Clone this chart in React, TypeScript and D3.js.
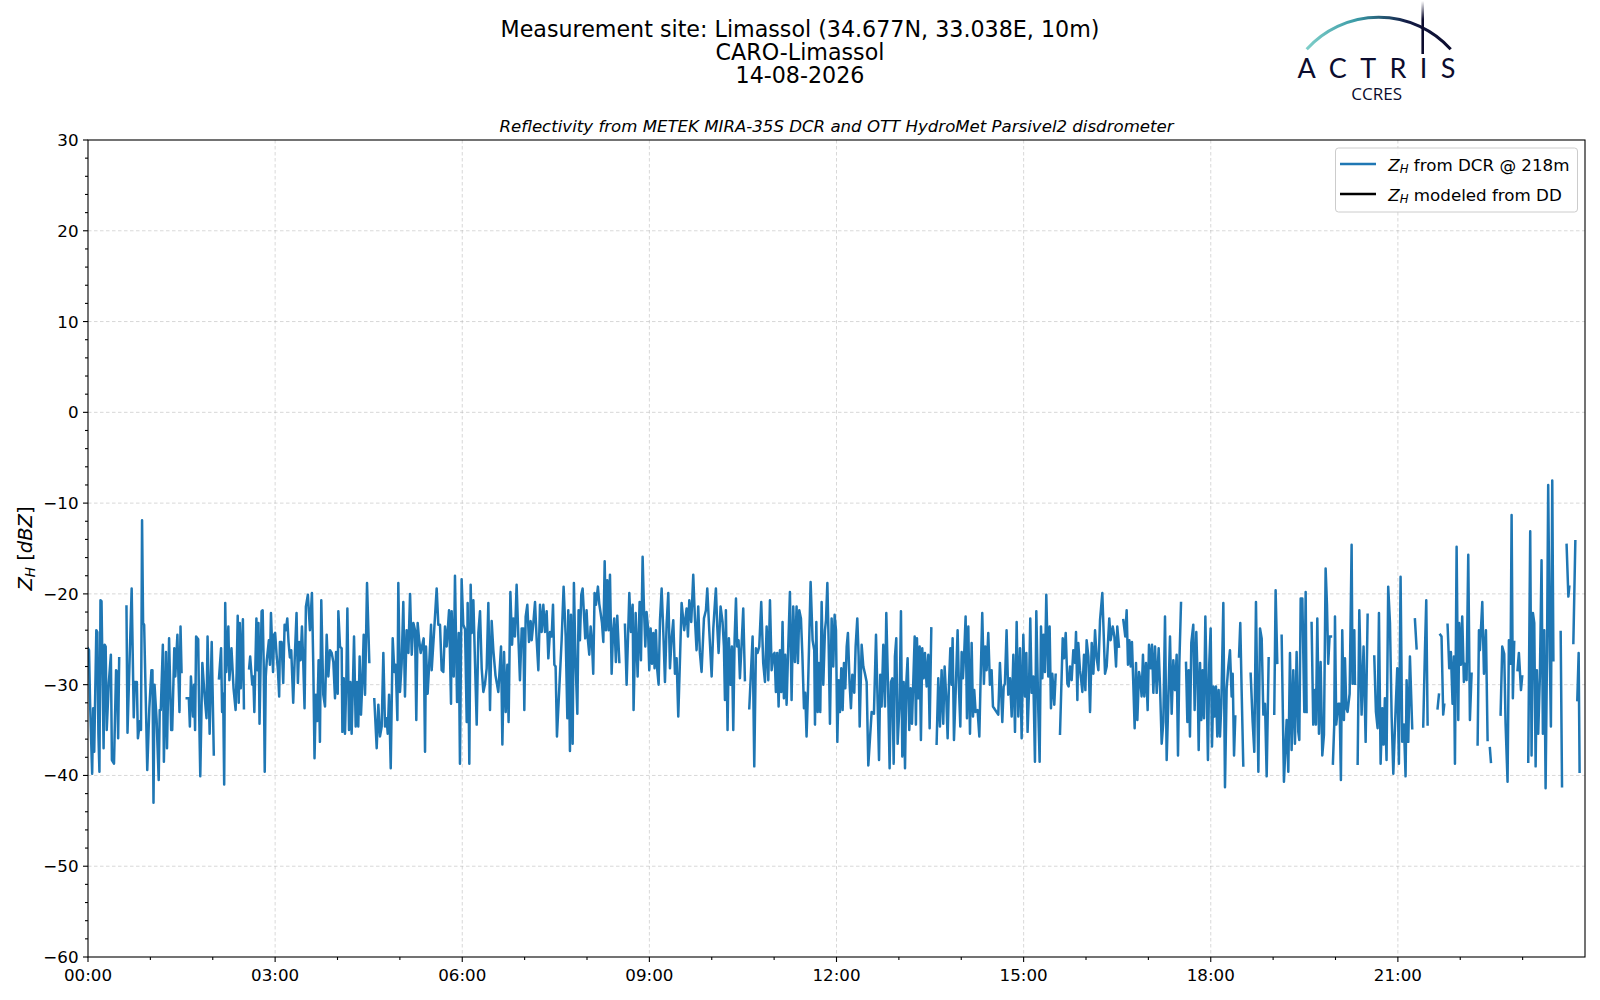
import React from 'react';
import * as d3 from 'd3';

type P = [number, number | null];

// Z_H from DCR @ 218m, [minute of day, dBZ]; null = no data
const zh0003: P[] = [[0,-26],[1,-26.2],[2,-32],[4,-39.8],[5,-32.6],[6,-37.4],[8,-24],[9,-24.2],[10,-35.4],[11,-39.6],[12,-20.7],[13,-20.8],[15,-37],[16,-25.6],[17,-25.8],[18,-35],[20,-29.8],[22,-26.7],[23,-38.3],[25,-38.7],[27,-28.4],[28,-28.6],[29,-35.9],[30,-27.1],[33,null],[37,-21.4],[38,-35.3],[42,-19.4],[44,-33.6],[45,-29.7],[47,-29.7],[48,-35.9],[50,-34],[51,-35],[52,-11.9],[53,-23.2],[54,-23.4],[56,-33.9],[57,-39.4],[59,-32.6],[61,-28.4],[62,-28.4],[63,-43],[64,-30],[66,-33.9],[68,-40.5],[69,-32.8],[70,-32.8],[72,-25.6],[73,-38.5],[75,-26.4],[76,-37],[78,-24.9],[80,-35],[81,-35],[83,-26],[84,-29.1],[86,-24.5],[87,-29.1],[88,-33],[89,-23.6],[90,-28.6],[92,null],[95,-31.5],[97,-31.5],[98,-34.6],[99,-29.1],[101,-33.5],[102,-30],[103,-35],[104,-24.7],[106,-25],[107,-33.7],[108,-40.1],[110,-27.6],[112,-31],[114,-33.7],[115,-24.7],[117,-35.4],[119,-25.3],[121,-37.7],[123,null],[126,-29.3],[128,-26],[129,-33],[130,-31],[131,-41],[132,-21],[133,-28.6],[135,-23.6],[136,-29.5],[138,-26],[140,-30.4],[142,-32.8],[143,-28.6],[144,-22.4],[145,-32],[146,-23.2],[147,-30.4],[149,-22.8],[150,-32.6],[152,null],[155,-28.2],[156,-26.9],[158,-30],[159,-29.1],[160,-33],[162,-22.7],[163,-28.4],[164,-23.2],[165,-34.3],[167,-21.9],[168,-21.8],[169,-27.6],[170,-39.6],[171,-29.1],[172,-27.3],[174,-25.1],[175,-27.8],[176,-22.1],[178,-28.6],[179,-24.5]];

const zh0306: P[] = [[180,-24.3],[181.4,-26.7],[182.7,-28.4],[183.9,-31.3],[184.6,-25.3],[186.2,-25.3],[187.8,-29.8],[189.1,-23.4],[190.4,-24],[191.7,-22.7],[192.9,-25.3],[194.2,-27],[195.5,-26.2],[197.4,-32],[198.7,-27.6],[200.6,-22.1],[201.9,-29.8],[203.2,-25.3],[204.5,-27.3],[205.8,-23.6],[207,-27.3],[208.3,-32.6],[209.6,-21.4],[211.5,-20.1],[213.5,-24],[215.4,-19.9],[216.7,-27.8],[217.9,-38.1],[219.2,-31.1],[220.5,-34],[221.8,-27.3],[223.1,-36.3],[224.4,-20.7],[226.3,-31.1],[228,-32.4],[229.6,-24.5],[231.2,-29.1],[232.8,-26.2],[234.4,-26.5],[236,-27.5],[237.6,-31.5],[238.6,-26.4],[240.2,-31],[240.8,-21.9],[242.4,-25.8],[244,-26],[244.7,-35.2],[246,-29.3],[247.2,-35.4],[248.5,-29.5],[249.5,-21.6],[251.1,-35],[252.4,-29.7],[253.6,-35.4],[254.9,-29.7],[255.9,-24.7],[257.5,-34.6],[258.8,-29.7],[260,-34.6],[261.3,-26.9],[262.6,-33.3],[263.9,-29.7],[265.2,-24.5],[266.5,-31.1],[268.4,-18.8],[270.6,-27.5],[272,null],[275.4,-31.6],[277.7,-37],[279.3,-32.2],[280.9,-35.7],[282.5,-34.6],[284.1,-26.5],[285.7,-34.6],[287.3,-33.7],[288.3,-35.4],[289.6,-31.1],[291.2,-39.2],[293.1,-24.9],[294.7,-28.6],[296,-27.8],[297.6,-33.9],[298.5,-18.8],[300.1,-30.8],[301.7,-27.7],[303.3,-20.9],[304.9,-31.3],[306.5,-24],[308.2,-26.5],[309.8,-20],[311.4,-26.7],[313,-23.2],[314.6,-24],[315.8,-33.9],[317.1,-23.2],[318.4,-24.9],[320,-26.5],[321.6,-25.6],[322.9,-24.9],[324.2,-37.4],[325.1,-25.8],[326.7,-31],[328,-28.2],[330,-23.4],[330.6,-28.4],[333,-24],[335.4,-19.4],[337,-23.4],[338.6,-23.4],[340.2,-28.4],[341.8,-28.6],[343.4,-23.6],[345,-25.8],[347.3,-21.8],[349.2,-32.1],[349.8,-21.9],[351.8,-29.1],[353,-18],[355,-31.9],[356.6,-24.3],[357.8,-38.7],[359.4,-18.4]];

const zh0609: P[] = [[361,-23.4],[362.7,-23.9],[364.3,-34.1],[365.2,-21],[366.8,-38.7],[368.1,-19],[369.1,-24.3],[370.7,-20.7],[372.3,-27.7],[373.9,-34.4],[375.5,-24.3],[377.1,-21.9],[378.7,-28.2],[380.3,-30.8],[381.9,-29.9],[383.5,-28.2],[385.1,-21],[386.7,-32.8],[388.3,-23],[389.9,-26.2],[392,-29],[394.7,-30.8],[397.3,-25.8],[398.6,-36.6],[400.2,-26.4],[401.8,-33],[403.4,-27.8],[404.6,-34.1],[406.3,-19.8],[407.9,-25.6],[409.1,-22.7],[410.7,-24.7],[412.3,-19],[413.9,-24.5],[415.5,-29.5],[417.2,-23.8],[418.8,-23.8],[419.7,-32.8],[421,-22.5],[422.6,-21.2],[424.2,-25.3],[425.8,-23],[426.8,-25.1],[428.4,-23.2],[430,-20.9],[431.6,-25.1],[433.2,-28.4],[434.8,-21.2],[436.4,-24.2],[438,-21.2],[439.6,-24.2],[441.2,-21.9],[442.8,-27.1],[444.4,-24.2],[446,-24.7],[447.3,-21.2],[448.6,-27.8],[449.8,-28],[451.1,-35.7],[455.6,-25.1],[457.5,-19.2],[459.5,-24.7],[461.1,-33.7],[462,-21.8],[463.6,-37.3],[464.6,-22.3],[466.2,-36.5],[467.4,-18.8],[469,-27.5],[470.7,-33.2],[471.9,-21.8],[473.2,-25.1],[474.5,-20.1],[475.8,-19.4],[477.1,-22.3],[478.3,-24.9],[479.6,-21.8],[480.9,-25.1],[482.2,-26.7],[483.5,-23.6],[484.8,-25.4],[486,-28.8],[487.3,-19.9],[488.6,-21.2],[490.5,-19.2],[491.8,-21.1],[493.1,-22.1],[494.4,-23.2],[495.7,-25.3],[497,-16.4],[498.2,-24],[499.5,-18.5],[500.8,-24],[502.1,-17.9],[503.7,-28.8],[505,-24.3],[506.2,-22.7],[507.8,-27.5],[509.1,-22.4],[511.1,-27.5],[513,null],[516.5,-23.4],[518.1,-30],[520.7,-19.9],[522.3,-24.2],[523.9,-21.2],[524.8,-32.8],[526.8,-22.1],[528.7,-29.1],[530.6,-20.9],[531.9,-27.3],[533.5,-15.9],[534.8,-21.6],[536.1,-25.8],[537.3,-22],[538.6,-23.6],[539.9,-28.4]];

const zh0912: P[] = [[541.2,-23.8],[542.5,-27.7],[543.8,-24.3],[545,-28.2],[546.3,-24],[547.6,-28.4],[548.9,-30],[550.2,-22.9],[551.8,-19.4],[553.4,-24.2],[555,-29.7],[556.6,-23.3],[558.2,-19.9],[559.8,-28.2],[561.4,-24.9],[563,-22.9],[564.6,-28.8],[566.2,-27.1],[567.8,-33.5],[569.5,-27],[571,-21],[573.5,-24],[575.8,-21.6],[577.1,-24.7],[578.4,-20.7],[580.3,-23.1],[582.2,-17.9],[583.8,-22.7],[585.4,-26.2],[587,-21.4],[588.6,-26.5],[590.2,-28.6],[592.5,-22.7],[594.4,-21.8],[595.7,-19.4],[597.6,-24],[599.9,-29.1],[601.5,-23.8],[603.1,-20.9],[604,-19.4],[605.3,-23.6],[606.6,-26.5],[608.5,-21.4],[610.4,-23.1],[611.7,-25.8],[612.7,-31.7],[613.6,-21.8],[615.2,-35],[616.5,-24.9],[618.1,-30],[619.4,-25.8],[620.7,-35],[622,-24.9],[623.3,-20.5],[624.5,-25.8],[625.8,-25.1],[627.1,-29.3],[628.7,-25.6],[630.3,-21.6],[631.9,-29.5],[633.5,null],[636.1,-32.6],[639.3,-24.7],[640.9,-39],[642.5,-26],[644.1,-26.5],[645.7,-25.8],[647.6,-20.9],[649.5,-27.6],[651.2,-29.7],[652.8,-23.6],[654.4,-29.5],[656,-20.7],[657.6,-28.4],[659.2,-26.7],[660.4,-26.5],[661.7,-30.8],[663,-26.5],[664.3,-32.4],[665.6,-26.2],[666.9,-30.8],[668.1,-23.1],[669.4,-31.5],[670.7,-26.7],[672,-32.2],[673.3,-26.9],[675.2,-19.8],[676.8,-31.7],[678.4,-21.4],[680,-27.5],[681.6,-21.4],[682.9,-27.6],[684.2,-21.8],[685.8,-22.7],[687.1,-26.5],[688.7,-32.6],[689.9,-30.9],[691.2,-35.7],[692.5,-30.9],[695.1,-18.7],[697,-25.1],[698.6,-26.2],[699.3,-34.4],[700.6,-23.1],[701.9,-33],[703.1,-27.6],[704.4,-33],[705.7,-20.9],[707.3,-30],[708.9,-24],[709.9,-22.9],[711.2,-18.8],[712.4,-25.1],[713.7,-34.3],[715.3,-22.7],[716.9,-28],[718.2,-22.3],[719.5,-24]];

const zh1215: P[] = [[720.8,-36.3],[722.1,-29.5],[723.3,-33],[724.6,-28.2],[725.9,-32.8],[727.2,-27.6],[728.5,-30.4],[729.8,-25.8],[731,-24.3],[732.6,-29.9],[733.9,-32.6],[735.2,-28.9],[737.1,-30.9],[738.4,-25.8],[740,-22.7],[741.3,-26.9],[742.3,-34.6],[744.2,-25.6],[745.8,-28],[747.4,-28.8],[749,-29.7],[750.6,-38.9],[753.8,-33],[756,-33.2],[758,-24.5],[759.6,-32.1],[760.9,-38.3],[762.1,-28.9],[763.4,-32.4],[765,-25.6],[766.6,-32.4],[767.9,-22.1],[769.8,-31.3],[771.1,-39.2],[772.4,-29.7],[773.7,-29.3],[775,-38.7],[776.2,-26.9],[777.5,-24.9],[778.8,-36.5],[780.7,-32.1],[782,-21.9],[783.3,-37.9],[784.6,-29.7],[785.9,-39.2],[787.1,-29.9],[788.4,-27.1],[790,-35],[791.3,-30.4],[792.6,-34.3],[794.2,-28.4],[795.2,-24.7],[796.4,-34.4],[797.4,-24.9],[798.7,-31.5],[800,-25.8],[801.2,-36.1],[802.5,-26],[803.8,-29.3],[805.1,-26.5],[806.7,-30.2],[808.3,-26.7],[809.6,-34.8],[811.2,-23.8],[813.5,null],[816.3,-36.5],[817.9,-29.3],[819.5,-34.6],[821.1,-28.4],[822.7,-34.3],[824,-28],[825.6,-31.5],[826.9,-35.9],[828.2,-29.9],[829.5,-26],[830.7,-30],[831.7,-24.9],[833,-36.1],[834.6,-30.9],[836.5,-24],[837.8,-30.4],[839.1,-34.6],[840.4,-26.4],[841.6,-29.3],[842.9,-26.4],[844.2,-22.5],[845.5,-33.7],[846.8,-23.6],[848.4,-35.4],[850,-25.4],[851.3,-33.5],[852.5,-30.6],[853.8,-33],[855.7,-32.8],[857.4,-35.7],[858.6,-29.5],[860.2,-22.1],[861.8,-29.9],[863.1,-25.8],[864.4,-28.4],[866,-24.3],[867.6,-30],[869.2,-28.4],[870.5,-32.4],[875.6,-33.3],[877.2,-27.6],[878.2,-30.2],[879.5,-34.1],[880.8,-30.2],[882,-29.9],[883.6,-24],[885.2,-31.1],[886.9,-29.3],[888.5,-33.5],[890.1,-26.7],[891.7,-35.2],[893.3,-23.1],[894.9,-33.5],[896.5,-26],[898.1,-35.9],[899.7,-24.5]];

const zh1518: P[] = [[901.3,-31.3],[902.6,-26.5],[903.8,-35.2],[905.1,-30.9],[906.4,-22.7],[907.7,-30.9],[909.3,-29.1],[910.9,-38.5],[912.2,-21.9],[914.1,-32.8],[915.4,-38.5],[916.7,-23.6],[918,-29.3],[919.2,-24.5],[920.5,-28.6],[921.8,-20.1],[923.7,-29.1],[925,-23.6],[926.3,-32.6],[927.6,-28.8],[929.5,-32.2],[930.8,-28.9],[933,null],[935,-35.4],[937.6,-24.9],[938.8,-27.1],[940.5,-24.3],[942.1,-29.9],[943.3,-30.2],[944.6,-28],[946.2,-29.5],[947.8,-26.2],[949.4,-27.6],[950.4,-24.2],[951.7,-31.7],[952.6,-25.4],[954.2,-28.4],[955.2,-29.3],[956.5,-30.8],[958.1,-26.7],[959.4,-30.6],[960.6,-25.1],[962.3,-26.9],[963.9,-33],[965.5,-25.4],[967.1,-28.8],[968.7,-24],[970.3,-27.1],[971.9,-28.4],[973.5,-22.9],[975.7,-19.9],[978.3,-28.8],[979.9,-28],[982.4,-22.7],[983.7,-25.1],[985.7,-23.6],[987.3,-24.7],[988.9,-28],[990.1,-23.6],[991.7,-25.8],[993.5,null],[995.9,-22.9],[997.8,-24.7],[999.1,-21.8],[1000.4,-27.8],[1001.7,-25.1],[1003,-28],[1004.2,-25.3],[1005.5,-29.9],[1006.8,-34.8],[1008.1,-27.6],[1009.4,-33.9],[1011,-28.6],[1012.3,-29.5],[1013.5,-31.3],[1014.8,-26.7],[1016.1,-31.3],[1017.7,-27.6],[1019.3,-32.8],[1020.6,-25.6],[1022.2,-28.2],[1023.5,-25.6],[1024.8,-30.9],[1026.4,-25.8],[1028,-30.9],[1029.9,-26],[1031.2,-30.2],[1032.8,-36.5],[1034.4,-34.1],[1036,-22.5],[1037.6,-38.3],[1039.2,-31.7],[1040.8,-24.7],[1042.4,-33.2],[1044,-27.3],[1045.6,-30.6],[1047.2,-26.7],[1048.5,-37.8],[1049.8,-27.6],[1051.4,-21],[1053.5,null],[1056.2,-27.6],[1057.5,-34.1],[1058.8,-28.4],[1060,-35.7],[1061.3,-25.4],[1063.2,-23.4],[1064.5,-32.8],[1066.1,-24.2],[1067.4,-29.5],[1068.4,-37.2],[1069.7,-27.6],[1070.9,-33.9],[1072.2,-28.4],[1073.5,-33.7],[1074.8,-22.5],[1076.1,-30.2],[1077.3,-38.3],[1078.6,-27.6],[1079.9,-23.8]];

const zh1821: P[] = [[1081.2,-36.8],[1082.5,-30.2],[1083.8,-33.5],[1085,-30.2],[1086.3,-35.7],[1087.6,-30.6],[1088.9,-35.7],[1090.2,-32.1],[1092.1,-21],[1093.7,-41.3],[1095.3,-30.4],[1096.9,-28],[1098.5,-26.2],[1100.1,-31.3],[1101.1,-28.8],[1102.4,-37.8],[1103.6,-33.5],[1105,null],[1107.2,-26.9],[1108.4,-23.2],[1109.7,-30.6],[1111.3,-38.9],[1113,null],[1118.4,-28.8],[1120.3,-34.1],[1121.9,-37.4],[1123.5,-20.9],[1125.8,-39.6],[1127.4,-23.8],[1129,-24.9],[1130.6,-33.3],[1132.2,-32.1],[1133.8,-40.1],[1135.7,-27.1],[1138,null],[1141.1,-33.2],[1142.4,-19.6],[1144,-27.6],[1146,null],[1148.2,-24.6],[1150.4,-40.7],[1153,-33.9],[1154.6,-39.6],[1156.2,-26.5],[1157.8,-37.2],[1159.4,-28.4],[1161,-36.5],[1162.6,-26.4],[1164.2,-35.2],[1165.2,-36.1],[1166.5,-20.5],[1168.1,-20.5],[1170,-33],[1171.3,-19.8],[1172.2,-33],[1174,null],[1177,-23.2],[1178.6,-34.4],[1180.2,-30.6],[1181.2,-34.4],[1182.5,-22.7],[1184.1,-35.4],[1185.7,-27.5],[1187.3,-37.8],[1188.9,-35.5],[1190.5,-17.2],[1191.8,-21.2],[1193,-27.7],[1194.3,-24.7],[1195.6,-24.7],[1196.5,null],[1197.5,-38.7],[1198.8,-34.4],[1199.5,-22.5],[1200.7,-34.4],[1202.7,-32.1],[1203.9,-32.1],[1205.2,-40.5],[1206.5,-24],[1208.1,-33.9],[1209.1,-27.1],[1210.4,-32.6],[1211.6,-33],[1213.6,-31],[1215.5,-14.6],[1216.4,-29.9],[1218.1,-24],[1218.7,-29.9],[1220,null],[1221.3,-38.7],[1222.9,-21.8],[1225.1,-33.3],[1227,-25.8],[1229,-36.3],[1230.9,-22.3],[1234,null],[1237.3,-26.9],[1238.9,-33],[1240.5,-34.8],[1241.8,-22.1],[1243.4,-38.7],[1245,-32.6],[1246.3,-36.6],[1247.5,-31.5],[1249.1,-38.3],[1250.7,-19.2],[1252.4,-23.2],[1254,-33.5],[1255.6,-39.8],[1257.8,-32.8],[1259.4,-28.2]];

const zh2124: P[] = [[1261,-38.7],[1262.6,-18.1],[1264.2,-36.3],[1265.8,-34.4],[1267.4,-40.1],[1268.4,-29.5],[1270,-36.3],[1271.6,-26.9],[1273.8,-34.8],[1275,null],[1276.4,-22.8],[1278,-26],[1280,null],[1284.4,-34.6],[1286,-26.4],[1287.3,-20.7],[1288.6,-34.4],[1292,null],[1298.2,-32.6],[1299.5,-31.1],[1300.2,null],[1300.8,-24.5],[1302,-24.7],[1303.6,-33.3],[1304.6,-32.2],[1306,null],[1307.8,-23.4],[1309.4,-28.2],[1311,-26.4],[1312.6,-32.1],[1313.9,-26.9],[1314.9,-38.7],[1316.5,-14.8],[1318.1,-33.9],[1319,-23.2],[1320.6,-27.8],[1321.9,-22.5],[1323.5,-29.7],[1324.5,-27.7],[1326.1,-29.5],[1327.7,-15.7],[1329.3,-33.9],[1330.9,-28.8],[1333,null],[1336.7,-36.6],[1338,-24],[1338.9,-26.2],[1341.2,-20.9],[1342.8,-28.8],[1344.7,-24],[1346.3,-36.1],[1347.4,null],[1348.5,-37],[1349.5,-38.5],[1352,null],[1358.8,-33.3],[1360.4,-25.8],[1362.3,-26.6],[1363.6,-34.3],[1365.5,-40.7],[1366.8,-25.1],[1368.4,-27.7],[1369.4,-11.3],[1370.6,-31.5],[1371.9,-25.3],[1373.5,null],[1375.1,-28.4],[1376.4,-26.5],[1378.4,-30.6],[1379.6,-29.1],[1382,null],[1385.4,-38.5],[1387.3,-13.1],[1388.6,-37.8],[1389.9,-22.1],[1391.2,-23.2],[1392.5,-39],[1393.7,-28.4],[1395,-35.4],[1396.6,-29.1],[1398.2,-16.3],[1399.5,-35.4],[1400.8,-24],[1402.1,-41.4],[1403.4,-27.3],[1404.6,-8],[1406.2,-27.3],[1407.2,-34.6],[1408.5,-7.5],[1409.6,-27.3],[1412,null],[1416.6,-24.2],[1417.9,-41.2],[1420,null],[1422.3,-14.6],[1424,-20.3],[1424.9,-19.2],[1426.5,null],[1428.8,-25.4],[1430.7,-14.2],[1431.7,null],[1432.6,-31.7],[1433.9,-26.5],[1434.8,-39.6]];

const seriesDCR: P[] = [...zh0003, ...zh0306, ...zh0609, ...zh0912, ...zh1215, ...zh1518, ...zh1821, ...zh2124];

const xMajorHours = [0, 3, 6, 9, 12, 15, 18, 21];
const xMajorLabels = ['00:00', '03:00', '06:00', '09:00', '12:00', '15:00', '18:00', '21:00'];
const xMinorHours = [1, 2, 4, 5, 7, 8, 10, 11, 13, 14, 16, 17, 19, 20, 22, 23];
const yMajor = [-60, -50, -40, -30, -20, -10, 0, 10, 20, 30];
const yMinor = d3.range(-58, 30, 2).filter(v => v % 10 !== 0);

const titleLines = ['Measurement site: Limassol (34.677N, 33.038E, 10m)', 'CARO-Limassol', '14-08-2026'];
const subtitle = 'Reflectivity from METEK MIRA-35S DCR and OTT HydroMet Parsivel2 disdrometer';

const FONT = "'DejaVu Sans', sans-serif";
const L = 88, R = 1585, T = 140, B = 957;

export default function App() {
  const x = d3.scaleLinear().domain([0, 1440]).range([L, R]);
  const y = d3.scaleLinear().domain([-60, 30]).range([B, T]);
  const line = d3.line<P>()
    .defined(d => d[1] !== null)
    .x(d => x(d[0]))
    .y(d => y(d[1] as number));
  const path = line(seriesDCR) || '';

  return (
    <svg width={1600} height={1000} viewBox="0 0 1600 1000"
      style={{ position: 'fixed', left: 0, top: 0, background: '#fff' }}
      fontFamily={FONT}>
      <defs>
        <clipPath id="plotclip"><rect x={L} y={T} width={R - L} height={B - T} /></clipPath>
        <linearGradient id="arcgrad" gradientUnits="userSpaceOnUse" x1="1306" y1="0" x2="1451" y2="0">
          <stop offset="0" stopColor="#7fcfc9" />
          <stop offset="0.35" stopColor="#3a9aa6" />
          <stop offset="0.7" stopColor="#121a44" />
          <stop offset="1" stopColor="#0c0c2e" />
        </linearGradient>
        <linearGradient id="vgrad" gradientUnits="userSpaceOnUse" x1="0" y1="1" x2="0" y2="53">
          <stop offset="0" stopColor="#0c0c2e" stopOpacity="0" />
          <stop offset="0.35" stopColor="#0c0c2e" stopOpacity="1" />
          <stop offset="1" stopColor="#0c0c2e" stopOpacity="1" />
        </linearGradient>
      </defs>
      <rect x={0} y={0} width={1600} height={1000} fill="#fff" />

      {/* titles */}
      {titleLines.map((t, i) => (
        <text key={t} x={800} y={36.5 + i * 23.2} textAnchor="middle" fontSize={22.2} fill="#000">{t}</text>
      ))}
      <text x={(L + R) / 2} y={132} textAnchor="middle" fontSize={16.6} fontStyle="italic" fill="#000">{subtitle}</text>

      {/* logo */}
      <g>
        <path d="M1306.7,49.3 A97,97 0 0 1 1450.7,49.3" fill="none" stroke="url(#arcgrad)" strokeWidth={3} />
        <line x1={1422.7} y1={1} x2={1422.7} y2={54} stroke="url(#vgrad)" strokeWidth={2.6} />
        <text x={1297.5} y={77.5} fontSize={27} fontFamily="Lato, 'Open Sans', sans-serif" fill="#0c0c2e"
          textLength={158} lengthAdjust="spacing">ACTRIS</text>
        <text x={1376.7} y={99.5} textAnchor="middle" fontSize={17} fontFamily="'Open Sans', sans-serif" fill="#0c0c2e">CCRES</text>
      </g>

      {/* grid */}
      <g stroke="#b0b0b0" strokeOpacity={0.55} strokeWidth={0.9} strokeDasharray="3.5,2.5">
        {yMajor.filter(v => v > -60 && v < 30).map(v => (
          <line key={'gy' + v} x1={L} x2={R} y1={y(v)} y2={y(v)} />
        ))}
        {xMajorHours.filter(h => h > 0).map(h => (
          <line key={'gx' + h} x1={x(h * 60)} x2={x(h * 60)} y1={T} y2={B} />
        ))}
      </g>

      {/* data */}
      <g clipPath="url(#plotclip)">
        <path d={path} fill="none" stroke="#1f77b4" strokeWidth={2.5} strokeLinejoin="round" strokeLinecap="square" />
      </g>

      {/* axes frame */}
      <rect x={L} y={T} width={R - L} height={B - T} fill="none" stroke="#000" strokeWidth={1.1} />

      {/* ticks */}
      <g stroke="#000" strokeWidth={1.1}>
        {yMajor.map(v => <line key={'ty' + v} x1={L - 5} x2={L} y1={y(v)} y2={y(v)} />)}
        {yMinor.map(v => <line key={'tym' + v} x1={L - 3} x2={L} y1={y(v)} y2={y(v)} />)}
        {xMajorHours.map(h => <line key={'tx' + h} x1={x(h * 60)} x2={x(h * 60)} y1={B} y2={B + 5} />)}
        {xMinorHours.map(h => <line key={'txm' + h} x1={x(h * 60)} x2={x(h * 60)} y1={B} y2={B + 3} />)}
      </g>
      <g fontSize={16.7} fill="#000">
        {yMajor.map(v => (
          <text key={'ly' + v} x={L - 9.5} y={y(v)} dy="0.36em" textAnchor="end">{v < 0 ? '\u2212' + Math.abs(v) : String(v)}</text>
        ))}
        {xMajorHours.map((h, i) => (
          <text key={'lx' + h} x={x(h * 60)} y={981} textAnchor="middle">{xMajorLabels[i]}</text>
        ))}
      </g>

      {/* y label */}
      <text transform={`translate(31.5,${(T + B) / 2}) rotate(-90)`} textAnchor="middle" fontSize={19.5} fill="#000">
        <tspan fontStyle="italic">Z</tspan>
        <tspan fontStyle="italic" fontSize={13.6} dy={3.2}>H</tspan>
        <tspan dy={-3.2}> [</tspan>
        <tspan fontStyle="italic">dBZ</tspan>
        <tspan>]</tspan>
      </text>

      {/* legend */}
      <g>
        <rect x={1335.5} y={148} width={242} height={64} rx={3} fill="#fff" fillOpacity={0.8} stroke="#cccccc" strokeWidth={1} />
        <line x1={1340} x2={1376} y1={164} y2={164} stroke="#1f77b4" strokeWidth={2.5} />
        <line x1={1340} x2={1376} y1={194} y2={194} stroke="#000" strokeWidth={2.5} />
        <text x={1388.3} y={170.5} fontSize={16.7} fill="#000">
          <tspan fontStyle="italic">Z</tspan>
          <tspan fontStyle="italic" fontSize={11.7} dy={2.8}>H</tspan>
          <tspan dy={-2.8}> from DCR @ 218m</tspan>
        </text>
        <text x={1388.3} y={200.5} fontSize={16.7} fill="#000">
          <tspan fontStyle="italic">Z</tspan>
          <tspan fontStyle="italic" fontSize={11.7} dy={2.8}>H</tspan>
          <tspan dy={-2.8}> modeled from DD</tspan>
        </text>
      </g>
    </svg>
  );
}
